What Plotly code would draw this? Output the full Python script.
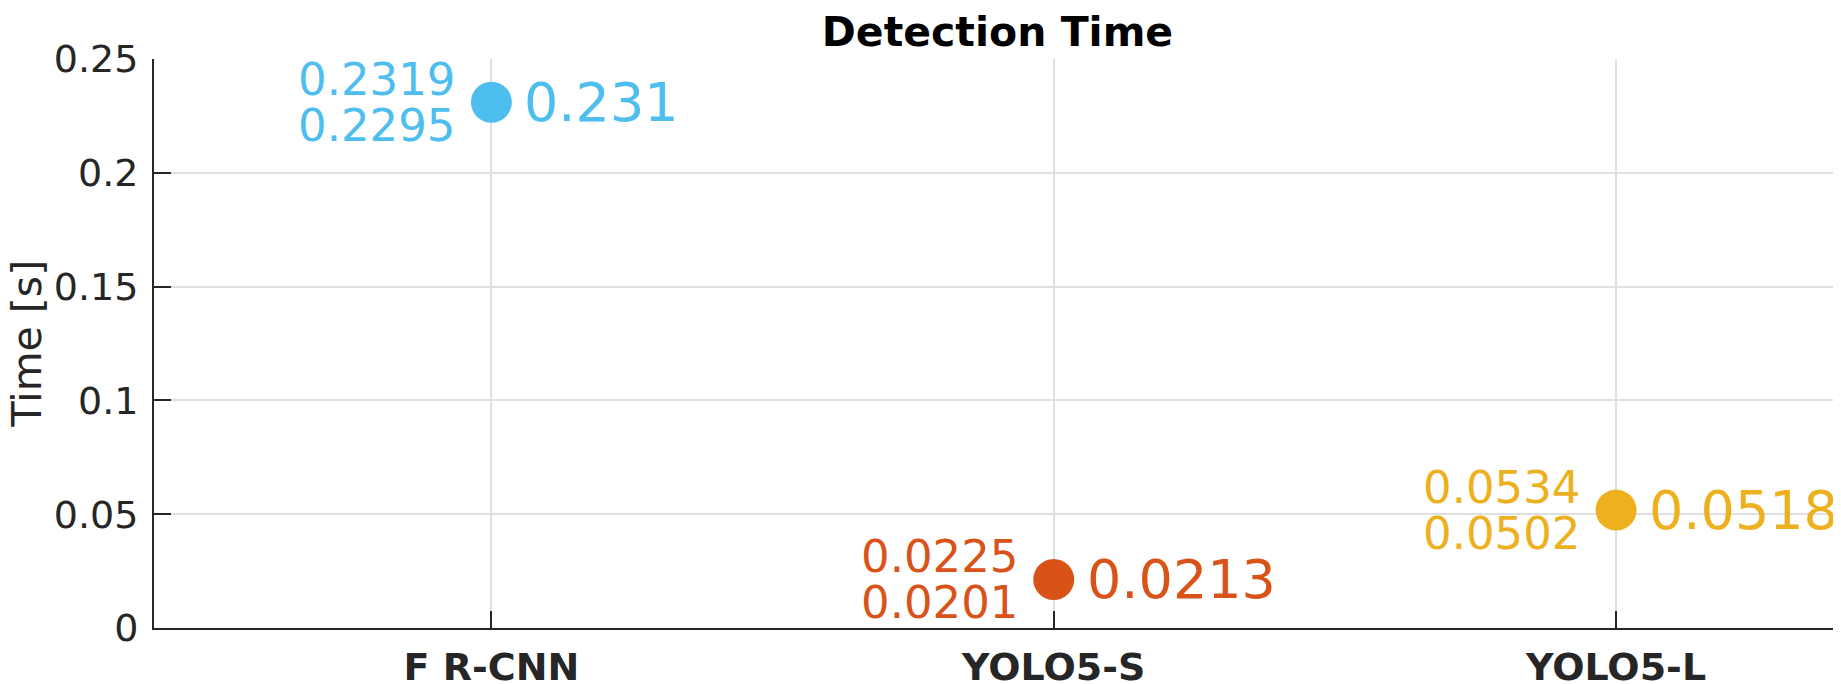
import plotly.graph_objects as go

categories = ["F R-CNN", "YOLO5-S", "YOLO5-L"]
mean_time = [0.231, 0.0213, 0.0518]
max_time = [0.2319, 0.0225, 0.0534]
min_time = [0.2295, 0.0201, 0.0502]
colors = ["#4DBEEE", "#D95319", "#EDB120"]
y_ticks = [0, 0.05, 0.1, 0.15, 0.2, 0.25]
y_tick_labels = ["0", "0.05", "0.1", "0.15", "0.2", "0.25"]

FONT = "DejaVu Sans"
AX = "#262626"
GRID = "#E0E0E0"

# The page body has an 8px margin; the figure is sized and offset to compensate.
PAGE_OFF = 8
W, H = 1841 - PAGE_OFF, 684 - PAGE_OFF

x_pos = list(range(1, len(categories) + 1))

fig = go.Figure()
for i, cat in enumerate(categories):
    fig.add_trace(go.Scatter(
        x=[x_pos[i]], y=[mean_time[i]], mode="markers",
        marker=dict(size=41, color=colors[i], line=dict(width=0)),
        cliponaxis=False, showlegend=False, name=cat,
    ))

annotations = []
for i in range(len(categories)):
    annotations.append(dict(
        x=x_pos[i], y=mean_time[i], xref="x", yref="y",
        text=f"{mean_time[i]:.4g}", showarrow=False,
        xanchor="left", yanchor="middle", xshift=31,
        font=dict(family=FONT, size=54, color=colors[i]),
    ))
    annotations.append(dict(
        x=x_pos[i], y=mean_time[i], xref="x", yref="y",
        text=f"{max_time[i]:.4g}", showarrow=False,
        xanchor="right", yanchor="middle", xshift=-34, yshift=23,
        font=dict(family=FONT, size=45, color=colors[i]),
    ))
    annotations.append(dict(
        x=x_pos[i], y=mean_time[i], xref="x", yref="y",
        text=f"{min_time[i]:.4g}", showarrow=False,
        xanchor="right", yanchor="middle", xshift=-34, yshift=-23,
        font=dict(family=FONT, size=45, color=colors[i]),
    ))

annotations.append(dict(
    x=0, y=0.5, xref="paper", yref="paper", xshift=-128,
    text="Time [s]", textangle=-90, showarrow=False,
    xanchor="center", yanchor="middle",
    font=dict(family=FONT, size=41, color=AX),
))

fig.update_layout(
    width=W, height=H,
    margin=dict(l=154 - PAGE_OFF, r=0, t=59 - PAGE_OFF, b=684 - 628,
                autoexpand=False),
    paper_bgcolor="white", plot_bgcolor="white",
    font=dict(family=FONT, color=AX),
    title=dict(text="<b>Detection Time</b>", x=0.5, xref="paper",
               y=1 - (32 - PAGE_OFF) / H, yref="container",
               xanchor="center", yanchor="middle",
               font=dict(family=FONT, size=41, color="#000000")),
    annotations=annotations,
    xaxis=dict(
        range=[0.4, 3.4], tickmode="array", tickvals=x_pos,
        ticktext=[f"<b>{c}</b>" for c in categories],
        ticks="inside", ticklen=17, tickwidth=2, tickcolor=AX,
        showline=True, linecolor=AX, linewidth=2, mirror=False,
        showgrid=True, gridcolor=GRID, gridwidth=1.5, zeroline=False,
        tickfont=dict(family=FONT, size=38, color=AX), automargin=False,
        ticklabelstandoff=4,
    ),
    yaxis=dict(
        range=[0, 0.25], tickmode="array", tickvals=y_ticks, ticktext=y_tick_labels,
        ticks="inside", ticklen=17, tickwidth=2, tickcolor=AX,
        showline=True, linecolor=AX, linewidth=2, mirror=False,
        showgrid=True, gridcolor=GRID, gridwidth=1.5, zeroline=False,
        tickfont=dict(family=FONT, size=38, color=AX), automargin=False,
        ticklabelstandoff=6,
    ),
)

fig.write_html("out.html")
